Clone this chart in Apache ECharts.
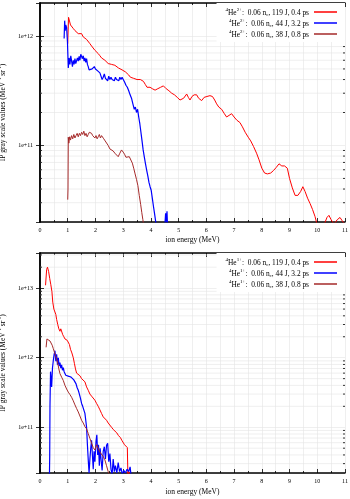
<!DOCTYPE html>
<html><head><meta charset="utf-8">
<script src="https://cdn.jsdelivr.net/npm/echarts@6/dist/echarts.min.js"></script>
<style>html,body{margin:0;padding:0;background:#fff}#c{width:350px;height:499px}</style>
</head><body><div id="c"></div>
<script>
// ---------- data (ion energy MeV, IP gray scale value) ----------
const he2_119J = [[1.00,8.5e11],[1.03,1.48e12],[1.07,1.45e12],[1.10,1.26e12],[1.14,1.23e12],[1.20,1.17e12],[1.26,1.12e12],[1.32,1.15e12],[1.38,1.05e12],[1.44,1.03e12],[1.50,1.05e12],[1.56,9.8e11],[1.62,9.5e11],[1.68,9.3e11],[1.74,9.0e11],[1.80,8.5e11],[1.86,8.1e11],[1.92,7.9e11],[1.98,7.4e11],[2.04,7.1e11],[2.10,6.9e11],[2.16,6.6e11],[2.22,6.3e11],[2.28,6.3e11],[2.34,6.0e11],[2.40,5.9e11],[2.46,5.6e11],[2.52,5.75e11],[2.58,5.5e11],[2.64,5.6e11],[2.70,5.4e11],[2.77,5.5e11],[2.83,5.1e11],[2.90,5.0e11],[2.96,4.9e11],[3.02,4.8e11],[3.08,4.7e11],[3.13,4.7e11],[3.20,4.4e11],[3.26,4.2e11],[3.32,4.1e11],[3.38,4.1e11],[3.44,4.0e11],[3.50,4.0e11],[3.56,3.9e11],[3.62,4.0e11],[3.68,3.93e11],[3.73,3.85e11],[3.80,3.6e11],[3.86,3.4e11],[3.91,3.3e11],[3.97,3.4e11],[4.05,3.3e11],[4.15,3.2e11],[4.25,3.3e11],[4.35,3.4e11],[4.45,3.5e11],[4.55,3.3e11],[4.65,3.16e11],[4.75,3.0e11],[4.85,2.9e11],[4.95,2.75e11],[5.05,2.6e11],[5.11,2.57e11],[5.18,2.7e11],[5.29,2.95e11],[5.35,2.75e11],[5.41,2.6e11],[5.48,2.8e11],[5.56,2.9e11],[5.65,2.9e11],[5.72,2.7e11],[5.83,2.57e11],[5.92,2.75e11],[6.02,2.8e11],[6.13,2.85e11],[6.22,2.8e11],[6.30,2.6e11],[6.37,2.4e11],[6.45,2.24e11],[6.55,2.14e11],[6.65,1.95e11],[6.73,1.82e11],[6.80,1.86e11],[6.91,1.95e11],[7.00,1.82e11],[7.10,1.70e11],[7.21,1.62e11],[7.30,1.48e11],[7.40,1.32e11],[7.51,1.19e11],[7.60,1.10e11],[7.70,9.8e10],[7.81,8.5e10],[7.90,7.4e10],[8.00,6.2e10],[8.10,5.6e10],[8.20,5.5e10],[8.32,5.6e10],[8.42,5.9e10],[8.52,6.3e10],[8.62,6.8e10],[8.72,6.5e10],[8.82,6.5e10],[8.92,6.2e10],[9.00,5.0e10],[9.10,4.1e10],[9.20,3.5e10],[9.30,3.5e10],[9.40,3.8e10],[9.48,4.2e10],[9.56,3.8e10],[9.65,3.3e10],[9.74,2.95e10],[9.83,2.6e10],[9.92,2.24e10],[9.98,1.95e10],[10.10,1.8e10],[10.25,1.9e10],[10.35,2.2e10],[10.42,2.3e10],[10.50,2.1e10],[10.60,1.9e10],[10.72,2.1e10],[10.82,2.2e10],[10.90,2.05e10],[11.0,1.9e10]];
const he2_44J = [[0.87,9.5e11],[0.89,1.38e12],[0.91,1.12e12],[0.93,1.26e12],[0.96,1.19e12],[0.99,8.9e11],[1.02,5.1e11],[1.05,6.3e11],[1.08,5.5e11],[1.11,6.6e11],[1.14,5.9e11],[1.17,5.25e11],[1.20,6.0e11],[1.23,5.5e11],[1.26,6.2e11],[1.29,5.6e11],[1.32,5.75e11],[1.35,6.3e11],[1.38,5.9e11],[1.41,6.5e11],[1.44,6.0e11],[1.47,6.8e11],[1.50,6.8e11],[1.53,6.2e11],[1.56,6.6e11],[1.59,5.9e11],[1.62,6.3e11],[1.65,5.75e11],[1.68,6.2e11],[1.71,5.5e11],[1.74,5.25e11],[1.77,4.9e11],[1.80,5.1e11],[1.84,4.8e11],[1.88,5.0e11],[1.92,4.9e11],[1.96,5.25e11],[2.00,5.0e11],[2.04,5.1e11],[2.08,4.8e11],[2.12,5.0e11],[2.16,4.6e11],[2.20,4.3e11],[2.24,4.0e11],[2.28,4.2e11],[2.32,4.5e11],[2.36,4.1e11],[2.40,4.2e11],[2.44,3.9e11],[2.48,4.3e11],[2.52,4.0e11],[2.56,4.2e11],[2.60,4.0e11],[2.64,4.1e11],[2.68,3.9e11],[2.72,4.2e11],[2.76,4.0e11],[2.80,4.1e11],[2.84,3.9e11],[2.88,4.2e11],[2.92,4.0e11],[2.96,4.2e11],[3.00,4.1e11],[3.05,3.8e11],[3.10,3.55e11],[3.15,3.4e11],[3.20,3.16e11],[3.25,2.9e11],[3.30,2.7e11],[3.35,2.4e11],[3.40,2.14e11],[3.44,2.24e11],[3.48,2.0e11],[3.52,2.14e11],[3.56,1.82e11],[3.60,1.58e11],[3.64,1.32e11],[3.68,1.10e11],[3.72,9.1e10],[3.76,7.9e10],[3.80,6.9e10],[3.85,5.9e10],[3.89,5.25e10],[3.93,4.6e10],[3.97,4.2e10],[4.01,3.9e10],[4.05,3.3e10],[4.09,2.8e10],[4.13,2.4e10],[4.17,2.04e10],[4.20,1.8e10],[4.50,1.8e10],[4.53,2.4e10],[4.56,2.0e10],[4.58,2.5e10],[4.60,1.8e10]];
const he2_38J = [[1.00,3.2e10],[1.01,4.0e10],[1.02,1.19e11],[1.04,1.05e11],[1.07,1.2e11],[1.10,1.12e11],[1.14,1.23e11],[1.18,1.15e11],[1.22,1.26e11],[1.26,1.17e11],[1.30,1.23e11],[1.34,1.29e11],[1.38,1.2e11],[1.42,1.29e11],[1.46,1.23e11],[1.50,1.32e11],[1.54,1.26e11],[1.58,1.35e11],[1.62,1.23e11],[1.66,1.29e11],[1.70,1.2e11],[1.74,1.26e11],[1.78,1.32e11],[1.82,1.35e11],[1.86,1.29e11],[1.90,1.23e11],[1.94,1.26e11],[1.98,1.17e11],[2.02,1.23e11],[2.06,1.15e11],[2.10,1.2e11],[2.14,1.26e11],[2.18,1.17e11],[2.22,1.23e11],[2.26,1.2e11],[2.30,1.15e11],[2.35,1.10e11],[2.40,1.07e11],[2.46,1.0e11],[2.52,9.3e10],[2.58,9.1e10],[2.64,8.9e10],[2.70,8.5e10],[2.76,8.3e10],[2.82,7.9e10],[2.88,8.5e10],[2.94,9.1e10],[3.00,8.7e10],[3.05,8.3e10],[3.10,7.8e10],[3.16,7.6e10],[3.22,7.9e10],[3.28,7.8e10],[3.33,6.9e10],[3.38,6.2e10],[3.43,5.5e10],[3.48,4.9e10],[3.53,4.3e10],[3.58,3.5e10],[3.63,2.9e10],[3.67,2.45e10],[3.71,2.1e10],[3.75,1.8e10]];

const he1_119J = [[0.20,1.1e13],[0.24,1.86e13],[0.27,2.0e13],[0.31,1.74e13],[0.35,1.38e13],[0.39,1.12e13],[0.43,8.9e12],[0.46,6.3e12],[0.50,5.0e12],[0.54,4.7e12],[0.57,4.2e12],[0.60,3.55e12],[0.64,3.0e12],[0.68,2.6e12],[0.72,2.4e12],[0.75,2.6e12],[0.78,2.5e12],[0.82,2.14e12],[0.86,2.0e12],[0.90,1.86e12],[0.94,1.9e12],[0.98,1.78e12],[1.02,1.74e12],[1.06,1.55e12],[1.10,1.32e12],[1.15,1.17e12],[1.20,1.0e12],[1.24,8.3e11],[1.28,6.9e11],[1.32,6.0e11],[1.38,5.75e11],[1.44,5.5e11],[1.50,5.0e11],[1.56,4.7e11],[1.62,4.5e11],[1.68,3.8e11],[1.74,3.4e11],[1.80,3.0e11],[1.86,2.8e11],[1.92,2.7e11],[1.98,2.45e11],[2.04,2.2e11],[2.10,2.0e11],[2.16,1.78e11],[2.22,1.58e11],[2.28,1.41e11],[2.34,1.32e11],[2.40,1.26e11],[2.46,1.15e11],[2.52,1.10e11],[2.58,1.0e11],[2.64,9.3e10],[2.70,8.9e10],[2.77,8.3e10],[2.83,7.6e10],[2.90,7.1e10],[2.95,6.5e10],[3.00,6.2e10],[3.05,5.6e10],[3.10,5.25e10],[3.15,5.1e10],[3.17,2.0e10],[3.20,2.3e10],[3.24,2.0e10]];
const he1_44J = [[0.34,2.0e10],[0.35,3.8e10],[0.36,2.0e11],[0.38,6.3e11],[0.40,5.0e11],[0.42,3.8e11],[0.45,7.1e11],[0.48,9.1e11],[0.51,1.12e12],[0.54,1.26e12],[0.57,8.9e11],[0.60,1.12e12],[0.63,7.9e11],[0.66,1.0e12],[0.69,7.6e11],[0.72,8.5e11],[0.75,7.1e11],[0.78,7.9e11],[0.81,6.6e11],[0.84,7.2e11],[0.87,6.3e11],[0.90,6.0e11],[0.93,5.6e11],[0.96,5.25e11],[1.00,5.75e11],[1.04,5.4e11],[1.08,5.6e11],[1.12,5.25e11],[1.17,5.0e11],[1.22,4.8e11],[1.26,4.6e11],[1.30,4.2e11],[1.34,3.7e11],[1.38,3.4e11],[1.42,3.0e11],[1.46,2.6e11],[1.50,2.2e11],[1.54,2.0e11],[1.58,1.78e11],[1.62,1.58e11],[1.65,1.26e11],[1.68,1.0e11],[1.71,5.6e10],[1.74,3.4e10],[1.77,2.2e10],[1.80,3.5e10],[1.83,5.0e10],[1.86,6.5e10],[1.89,4.0e10],[1.92,2.5e10],[1.95,4.5e10],[1.98,3.2e10],[2.02,6.3e10],[2.05,7.8e10],[2.08,4.0e10],[2.11,5.6e10],[2.14,2.8e10],[2.17,5.0e10],[2.20,3.5e10],[2.24,2.4e10],[2.28,4.5e10],[2.32,5.25e10],[2.36,3.5e10],[2.40,5.5e10],[2.44,5.9e10],[2.48,3.2e10],[2.52,4.2e10],[2.56,2.5e10],[2.60,2.1e10],[2.64,3.5e10],[2.68,2.3e10],[2.72,2.8e10],[2.77,2.2e10],[2.82,3.1e10],[2.87,2.3e10],[2.92,2.6e10],[2.97,2.1e10],[3.02,2.4e10],[3.08,2.2e10],[3.14,2.5e10],[3.20,2.3e10],[3.25,2.7e10],[3.28,2.1e10]];
const he1_38J = [[0.22,1.41e12],[0.25,1.86e12],[0.28,1.82e12],[0.32,1.86e12],[0.36,1.74e12],[0.40,1.66e12],[0.44,1.51e12],[0.48,1.35e12],[0.52,1.2e12],[0.56,1.07e12],[0.60,9.5e11],[0.64,8.3e11],[0.68,6.9e11],[0.72,5.9e11],[0.78,5.25e11],[0.84,4.7e11],[0.90,4.0e11],[0.96,3.55e11],[1.02,3.2e11],[1.08,2.95e11],[1.14,2.7e11],[1.20,2.4e11],[1.26,2.1e11],[1.32,1.86e11],[1.38,1.66e11],[1.44,1.45e11],[1.50,1.26e11],[1.56,1.15e11],[1.62,1.02e11],[1.68,9.5e10],[1.74,8.1e10],[1.80,6.9e10],[1.86,5.9e10],[1.92,5.1e10],[1.98,4.7e10],[2.04,5.6e10],[2.10,5.25e10],[2.16,4.4e10],[2.22,4.2e10],[2.28,3.8e10],[2.34,3.4e10],[2.40,2.8e10],[2.46,2.3e10],[2.52,2.0e10]];

// axis ranges and tick values
const xRange = [0, 11];
const yRangeTop = [2e10, 2e12];
const yRangeBottom = [2.2e10, 3.2e13];
const minorTop = [3e10,4e10,5e10,6e10,7e10,8e10,9e10,2e11,3e11,4e11,5e11,6e11,7e11,8e11,9e11];
const minorBottom = [3e10,4e10,5e10,6e10,7e10,8e10,9e10,2e11,3e11,4e11,5e11,6e11,7e11,8e11,9e11,2e12,3e12,4e12,5e12,6e12,7e12,8e12,9e12,2e13,3e13];

const namesTop = ['He2+ 119 J', 'He2+ 44 J', 'He2+ 38 J'];
const namesBottom = ['He1+ 119 J', 'He1+ 44 J', 'He1+ 38 J'];
const legendLabels = {
  'He2+ 119 J': '{s|4}{t|He}{s|2+}{t|:  0.06 n}{b|c}{t|, 119 J, 0.4 ps}',
  'He2+ 44 J':  '{s|4}{t|He}{s|2+}{t|:  0.06 n}{b|c}{t|, 44 J, 3.2 ps}',
  'He2+ 38 J':  '{s|4}{t|He}{s|2+}{t|:  0.06 n}{b|c}{t|, 38 J, 0.8 ps}',
  'He1+ 119 J': '{s|4}{t|He}{s|1+}{t|:  0.06 n}{b|c}{t|, 119 J, 0.4 ps}',
  'He1+ 44 J':  '{s|4}{t|He}{s|1+}{t|:  0.06 n}{b|c}{t|, 44 J, 3.2 ps}',
  'He1+ 38 J':  '{s|4}{t|He}{s|1+}{t|:  0.06 n}{b|c}{t|, 38 J, 0.8 ps}'
};
const colors = ['#ff0000', '#0000ff', '#a52a2a'];

const FONT = 'Liberation Serif';
const richText = {
  t: {fontFamily: FONT, fontSize: 7.4, color: '#000', lineHeight: 10, verticalAlign: 'bottom'},
  s: {fontFamily: FONT, fontSize: 5, color: '#000', lineHeight: 6, verticalAlign: 'top'},
  b: {fontFamily: FONT, fontSize: 5, color: '#000', lineHeight: 5, verticalAlign: 'bottom'}
};
const gridColor = '#e4e4e4';

function xAxes(gi, nameGap) {
  return [{
    gridIndex: gi, type: 'value', position: 'bottom', min: xRange[0], max: xRange[1], interval: 1,
    axisLine: {show: true, lineStyle: {color: '#000', width: 1.5}},
    axisTick: {show: true, inside: true, length: 4, lineStyle: {color: '#000', width: 0.8}},
    minorTick: {show: true, splitNumber: 2, length: 2, lineStyle: {color: '#000', width: 0.8}},
    splitLine: {show: true, lineStyle: {color: gridColor, width: 0.6}},
    minorSplitLine: {show: true, lineStyle: {color: gridColor, width: 0.6}},
    axisLabel: {fontFamily: FONT, fontSize: 6, color: '#000', margin: 5},
    name: 'ion energy (MeV)', nameLocation: 'middle', nameGap: nameGap,
    nameTextStyle: {fontFamily: FONT, fontSize: 7.5, color: '#000'}
  }, {
    gridIndex: gi, type: 'value', position: 'top', min: xRange[0], max: xRange[1], interval: 1,
    axisLine: {show: true, lineStyle: {color: '#000', width: 1.5}},
    axisTick: {show: true, inside: true, length: 4, lineStyle: {color: '#000', width: 0.8}},
    minorTick: {show: true, splitNumber: 2, length: 2, lineStyle: {color: '#000', width: 0.8}},
    splitLine: {show: false}, axisLabel: {show: false}
  }];
}
function yAxes(gi, range) {
  return [{
    gridIndex: gi, type: 'log', position: 'left', min: range[0], max: range[1],
    axisLine: {show: true, lineStyle: {color: '#000', width: 1.5}},
    axisTick: {show: true, inside: true, length: 4, lineStyle: {color: '#000', width: 0.8}},
    splitLine: {show: true, lineStyle: {color: gridColor, width: 0.6}},
    axisLabel: {fontFamily: FONT, fontSize: 6, color: '#000', margin: 7, showMinLabel: false, showMaxLabel: false,
      formatter: v => '1e+' + Math.round(Math.log10(v))},
    name: '{t|IP gray scale values (MeV}{s|-1}{t| sr}{s|-1}{t|)}', nameLocation: 'middle', nameGap: 25, nameRotate: 90,
    nameTextStyle: {rich: {
      t: {fontFamily: FONT, fontSize: 7.5, color: '#000', lineHeight: 10, verticalAlign: 'bottom'},
      s: {fontFamily: FONT, fontSize: 5, color: '#000', lineHeight: 6, verticalAlign: 'top'}
    }}
  }, {
    gridIndex: gi, type: 'log', position: 'right', min: range[0], max: range[1],
    axisLine: {show: true, lineStyle: {color: '#000', width: 1.5}},
    axisTick: {show: true, inside: true, length: 4, lineStyle: {color: '#000', width: 0.8}},
    splitLine: {show: false}, axisLabel: {show: false}
  }];
}
function minorSeries(vals, xi, yi) {
  return {
    type: 'custom', xAxisIndex: xi, yAxisIndex: yi, silent: true, z: 1, clip: false,
    data: vals.map(v => [0, v]),
    encode: {x: 0, y: 1},
    renderItem: function (params, api) {
      const cs = params.coordSys;
      const y = api.coord([0, api.value(1)])[1];
      return {type: 'group', children: [
        {type: 'line', shape: {x1: cs.x, y1: y, x2: cs.x + cs.width, y2: y}, style: {stroke: gridColor, lineWidth: 0.6}},
        {type: 'line', shape: {x1: cs.x, y1: y, x2: cs.x + 2, y2: y}, style: {stroke: '#000', lineWidth: 0.8}},
        {type: 'line', shape: {x1: cs.x + cs.width - 2, y1: y, x2: cs.x + cs.width, y2: y}, style: {stroke: '#000', lineWidth: 0.8}}
      ]};
    }
  };
}
function lineSeries(name, data, color, xi, yi, w) {
  return {name: name, type: 'line', data: data, xAxisIndex: xi, yAxisIndex: yi, symbol: 'none', z: 3,
    lineStyle: {color: color, width: w}, itemStyle: {color: color}, animation: false};
}
function legend(names, top) {
  return {
    data: names, orient: 'vertical', align: 'right', right: 5, top: top,
    padding: [4, 8, 3, 9], backgroundColor: '#fff', icon: 'rect', itemWidth: 23, itemHeight: 1.5, itemGap: 1,
    selectedMode: false, formatter: n => legendLabels[n], textStyle: {rich: richText}
  };
}

const chart = echarts.init(document.getElementById('c'), null, {renderer: 'canvas'});
chart.setOption({
  animation: false,
  backgroundColor: '#fff',
  grid: [
    {left: 40, right: 5, top: 3, height: 219, containLabel: false, outerBoundsMode: 'none'},
    {left: 40, right: 5, top: 253, height: 220, containLabel: false, outerBoundsMode: 'none'}
  ],
  xAxis: [...xAxes(0, 14), ...xAxes(1, 15)],
  yAxis: [...yAxes(0, yRangeTop), ...yAxes(1, yRangeBottom)],
  legend: [legend(namesTop, 3), legend(namesBottom, 253)],
  series: [
    minorSeries(minorTop, 0, 0),
    minorSeries(minorBottom, 2, 2),
    lineSeries(namesTop[0], he2_119J, colors[0], 0, 0, 1),
    lineSeries(namesTop[1], he2_44J, colors[1], 0, 0, 1.2),
    lineSeries(namesTop[2], he2_38J, colors[2], 0, 0, 1),
    lineSeries(namesBottom[0], he1_119J, colors[0], 2, 2, 1),
    lineSeries(namesBottom[1], he1_44J, colors[1], 2, 2, 1.2),
    lineSeries(namesBottom[2], he1_38J, colors[2], 2, 2, 1)
  ]
});
</script></body></html>
